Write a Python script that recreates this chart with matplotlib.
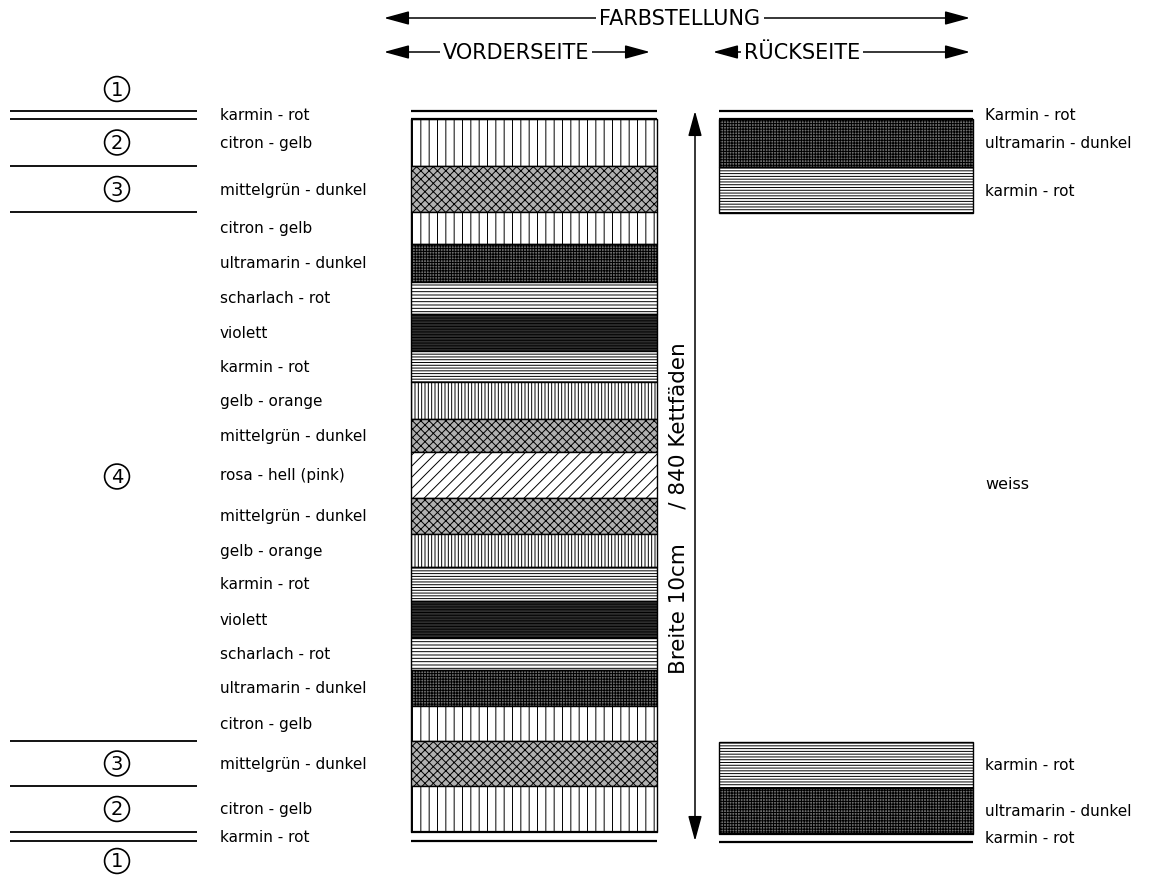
import numpy as np
import matplotlib
matplotlib.use("Agg")
from matplotlib import pyplot as plt

# stripe order and widths (picture units, top to bottom) - front side
front_names = ['karmin - rot', 'citron - gelb', 'mittelgrün - dunkel', 'citron - gelb',
               'ultramarin - dunkel', 'scharlach - rot', 'violett', 'karmin - rot',
               'gelb - orange', 'mittelgrün - dunkel', 'rosa - hell (pink)', 'mittelgrün - dunkel',
               'gelb - orange', 'karmin - rot', 'violett', 'scharlach - rot',
               'ultramarin - dunkel', 'citron - gelb', 'mittelgrün - dunkel', 'citron - gelb',
               'karmin - rot']
front_widths = [8, 47, 46, 32, 38, 32, 37, 31, 37, 33, 46, 36, 33, 34, 37, 32, 36, 35, 45, 46, 9]

# back side
back_names = ['Karmin - rot', 'ultramarin - dunkel', 'karmin - rot', 'weiss',
              'karmin - rot', 'ultramarin - dunkel', 'karmin - rot']
back_widths = [8, 48, 46, 529, 46, 46, 8]

# repeat sections on the left (number, how many stripes)
section_ids = [1, 2, 3, 4, 3, 2, 1]
section_counts = [1, 1, 1, 15, 1, 1, 1]

# colour -> (face, hatch)
styles = {
    'karmin': ('white', '------'),
    'citron': ('white', '||'),
    'mittelgrün': ('#b0b0b0', 'xxxx'),
    'ultramarin': ('#6e6e6e', '++++++'),
    'scharlach': ('white', '-----'),
    'violett': ('#2e2e2e', '------'),
    'gelb': ('white', '|||||'),
    'rosa': ('white', '///'),
    'weiss': ('white', ''),
}

plt.rcParams['hatch.linewidth'] = 0.7
plt.rcParams['font.family'] = ['DejaVu Sans']

fig = plt.figure(figsize=(11.54, 8.79), dpi=100)
ax = fig.add_axes([0, 0, 1, 1])
ax.set_xlim(0, 1154)
ax.set_ylim(879, 0)
ax.axis('off')

top = 112


def draw_column(names, widths, x0, x1, lab_x):
    edges = top + np.concatenate([[0], np.cumsum(widths)])
    for i, (nm, w) in enumerate(zip(names, widths)):
        key = nm.split(' ')[0].lower()
        fc, hatch = styles[key]
        c = (edges[i] + edges[i + 1]) / 2
        if key == 'weiss':
            ax.text(lab_x, c + 6, nm, fontsize=11.5, va='center', ha='left')
            continue
        if w < 12:
            ax.barh(c, x1 - x0, left=x0, height=w, color='white', edgecolor='none')
            ax.hlines([edges[i], edges[i + 1]], x0, x1, color='black', lw=1.6)
        else:
            ax.barh(c, x1 - x0, left=x0, height=w, color=fc, edgecolor='black',
                    hatch=hatch, lw=1.0)
        ax.text(lab_x, c, nm, fontsize=11, va='center', ha='left')
    return edges


fe = draw_column(front_names, front_widths, 411, 657, 220)
draw_column(back_names, back_widths, 719, 973, 985)

# left repeat markers
idx = np.concatenate([[0], np.cumsum(section_counts)])
sec_edges = fe[idx]
ax.hlines(sec_edges, 10, 197, color='black', lw=1.3)
for k, sid in enumerate(section_ids):
    if k == 0:
        yc = sec_edges[0] - 22
    elif k == len(section_ids) - 1:
        yc = sec_edges[-1] + 20
    else:
        yc = (sec_edges[k] + sec_edges[k + 1]) / 2
    ax.text(117, yc, str(sid), fontsize=14, ha='center', va='center',
            bbox=dict(boxstyle='circle,pad=0.15', fc='white', ec='black', lw=1.2))

# width arrow
aprops = dict(arrowstyle='<|-|>,head_length=1.1,head_width=0.3', color='black',
              lw=1.1, mutation_scale=14, shrinkA=0, shrinkB=0)
ax.annotate('', xy=(695, fe[0]), xytext=(695, fe[-1]), arrowprops=aprops)
ax.text(679, 508, 'Breite 10cm     / 840 Kettfäden', rotation=90, fontsize=15.5,
        ha='center', va='center')

# header arrows
for (xa, xb, y, txt, xt) in [(384, 970, 19, 'FARBSTELLUNG', 680),
                             (384, 650, 53, 'VORDERSEITE', 516),
                             (713, 970, 53, 'RÜCKSEITE', 802)]:
    ax.annotate('', xy=(xb, y), xytext=(xa, y), arrowprops=aprops)
    ax.text(xt, y, txt, fontsize=15, ha='center', va='center',
            bbox=dict(boxstyle='square,pad=0.15', fc='white', ec='none'))

fig.savefig('out.png', dpi=100, facecolor='white')
